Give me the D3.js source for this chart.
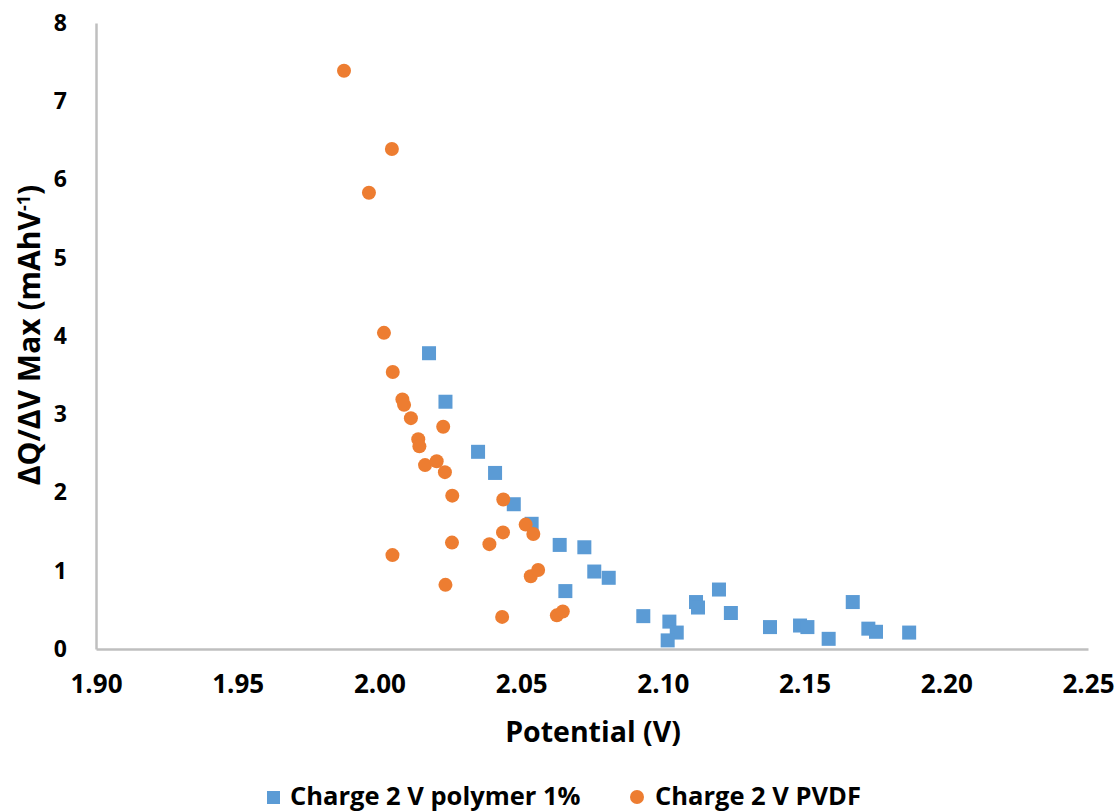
<!DOCTYPE html>
<html>
<head>
<meta charset="utf-8">
<script src="https://cdn.jsdelivr.net/npm/d3@7"></script>
<style>
	body { margin: 0; background: #fff; }
	text { font-family: 'Open Sans', sans-serif; font-weight: bold; fill: #000; }
</style>
</head>
<body>
<div id="chart"></div>
<script>
'use strict';

// Charge 2 V polymer 1%
let polyX = [2.0175, 2.0233, 2.0348, 2.0408, 2.0474, 2.0537, 2.0636, 2.0723, 2.0758, 2.0809,
	2.0656, 2.0931, 2.1023, 2.1049, 2.1017, 2.1117, 2.1124, 2.1198, 2.1240, 2.1378,
	2.1484, 2.1510, 2.1585, 2.1670, 2.1725, 2.1752, 2.1869];
let polyY = [3.78, 3.16, 2.52, 2.25, 1.85, 1.60, 1.33, 1.30, 0.99, 0.91,
	0.74, 0.42, 0.35, 0.21, 0.11, 0.60, 0.53, 0.76, 0.46, 0.28,
	0.30, 0.28, 0.13, 0.60, 0.26, 0.22, 0.21];

// Charge 2 V PVDF
let pvdfX = [1.9875, 2.0044, 1.9963, 2.0016, 2.0047, 2.0081, 2.0087, 2.0111, 2.0137, 2.0141,
	2.0161, 2.0202, 2.0225, 2.0231, 2.0257, 2.0046, 2.0256, 2.0233, 2.0388, 2.0437,
	2.0436, 2.0433, 2.0516, 2.0543, 2.0534, 2.0560, 2.0626, 2.0647];
let pvdfY = [7.39, 6.39, 5.83, 4.04, 3.54, 3.19, 3.12, 2.95, 2.68, 2.59,
	2.35, 2.40, 2.84, 2.26, 1.96, 1.20, 1.36, 0.82, 1.34, 1.91,
	1.49, 0.41, 1.59, 1.47, 0.93, 1.01, 0.43, 0.48];

let xTicks = [1.90, 1.95, 2.00, 2.05, 2.10, 2.15, 2.20, 2.25];
let yTicks = [0, 1, 2, 3, 4, 5, 6, 7, 8];

let W = 1120, H = 811;
let m = {left: 96, right: 1088, top: 23, bottom: 649};

let svg = d3.select('#chart')
	.append('svg')
		.attr('width', W)
		.attr('height', H)
	;

let x = d3.scaleLinear().domain([1.90, 2.25]).range([m.left, m.right]);
let y = d3.scaleLinear().domain([0, 8]).range([m.bottom, m.top]);

let xAxis = svg.append('g')
	.attr('transform', 'translate(0,' + m.bottom + ')')
	.call(d3.axisBottom(x).tickValues(xTicks).tickFormat(d3.format('.2f')).tickSize(0).tickPadding(26))
	;
xAxis.select('.domain').attr('stroke', '#bfbfbf').attr('stroke-width', 2.5);
xAxis.selectAll('text').style('font-size', '26px').attr('fill', '#000');

let yAxis = svg.append('g')
	.attr('transform', 'translate(' + m.left + ',0)')
	.call(d3.axisLeft(y).tickValues(yTicks).tickFormat(d3.format('d')).tickSize(0).tickPadding(29))
	;
yAxis.select('.domain').attr('stroke', '#bfbfbf').attr('stroke-width', 2.5);
yAxis.selectAll('text').style('font-size', '23px').attr('fill', '#000');

// series 1 squares, then circles on top
let sq = 14;
svg.append('g').selectAll('rect')
	.data(d3.range(polyX.length))
	.join('rect')
		.attr('x', i => x(polyX[i]) - sq/2)
		.attr('y', i => y(polyY[i]) - sq/2)
		.attr('width', sq)
		.attr('height', sq)
		.attr('fill', '#5b9bd5')
	;

svg.append('g').selectAll('circle')
	.data(d3.range(pvdfX.length))
	.join('circle')
		.attr('cx', i => x(pvdfX[i]))
		.attr('cy', i => y(pvdfY[i]))
		.attr('r', 7)
		.attr('fill', '#ed7d31')
	;

// axis titles
svg.append('text')
	.attr('x', 593)
	.attr('y', 742)
	.attr('text-anchor', 'middle')
	.style('font-size', '28.5px')
	.text('Potential (V)');

let yt = svg.append('text')
	.attr('transform', 'translate(40,335) rotate(-90)')
	.attr('text-anchor', 'middle')
	.style('font-size', '30px');
yt.append('tspan').text('\u0394Q/\u0394V Max (mAhV');
yt.append('tspan').attr('dy', -10).style('font-size', '18px').text('-1');
yt.append('tspan').attr('dy', 10).text(')');

// legend
let lg = svg.append('g');
lg.append('rect')
	.attr('x', 267).attr('y', 791).attr('width', 13).attr('height', 13)
	.attr('fill', '#5b9bd5');
lg.append('text')
	.attr('x', 290).attr('y', 805)
	.style('font-size', '25.5px')
	.text('Charge 2 V polymer 1%');
lg.append('circle')
	.attr('cx', 637).attr('cy', 797).attr('r', 7)
	.attr('fill', '#ed7d31');
lg.append('text')
	.attr('x', 655).attr('y', 805)
	.style('font-size', '25.5px')
	.text('Charge 2 V PVDF');
</script>
</body>
</html>
